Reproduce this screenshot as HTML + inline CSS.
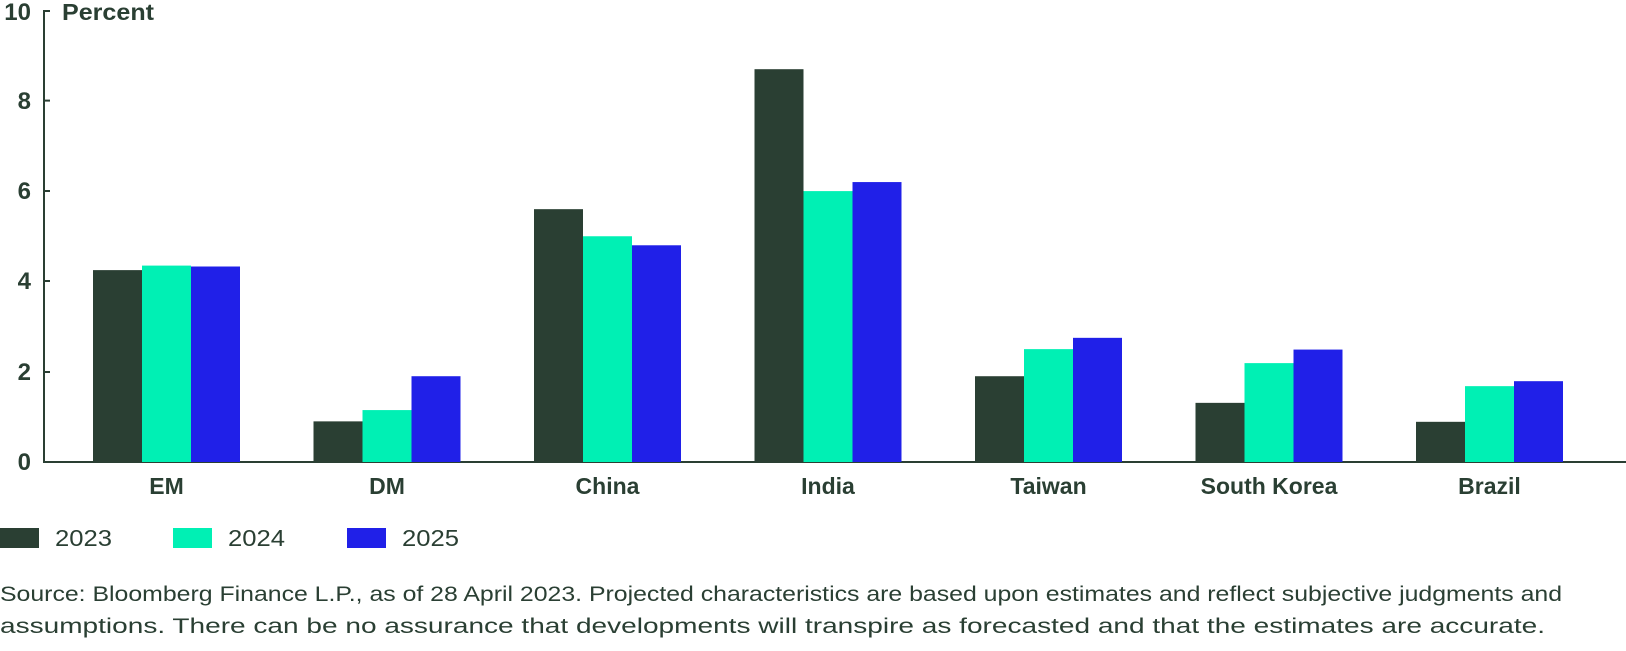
<!DOCTYPE html>
<html><head><style>
body{margin:0;background:#fff;width:1626px;height:646px;overflow:hidden;font-family:"Liberation Sans",sans-serif;}
</style></head><body>
<svg width="1626" height="646" xmlns="http://www.w3.org/2000/svg" font-family="Liberation Sans, sans-serif">
<g fill="#2a3f33" font-weight="bold" font-size="24" text-anchor="end">
<text x="31" y="20">10</text>
<text x="31" y="109">8</text>
<text x="31" y="199">6</text>
<text x="31" y="289">4</text>
<text x="31" y="380">2</text>
<text x="31" y="470">0</text>
</g>
<text x="62" y="20" fill="#2a3f33" font-weight="bold" font-size="23" textLength="92" lengthAdjust="spacingAndGlyphs">Percent</text>
<g stroke="#2a3f33" stroke-width="2">
<line x1="44" y1="10" x2="44" y2="463"/>
<line x1="43" y1="462" x2="1626" y2="462"/>
<line x1="44" y1="11" x2="50" y2="11"/>
<line x1="44" y1="100.6" x2="50" y2="100.6"/>
<line x1="44" y1="191" x2="50" y2="191"/>
<line x1="44" y1="281" x2="50" y2="281"/>
<line x1="44" y1="372" x2="50" y2="372"/>
</g>
<g id="bars"></g>
<g fill="#2a3f33" font-weight="bold" font-size="23" text-anchor="middle" id="cats"></g>
<rect x="0" y="528" width="39" height="20" fill="#2a3f33"/>
<text x="55" y="546" font-size="23" fill="#2a3f33" textLength="57" lengthAdjust="spacingAndGlyphs">2023</text>
<rect x="173" y="528" width="39" height="20" fill="#00f0b4"/>
<text x="228" y="546" font-size="23" fill="#2a3f33" textLength="57" lengthAdjust="spacingAndGlyphs">2024</text>
<rect x="347" y="528" width="39" height="20" fill="#2020e8"/>
<text x="402" y="546" font-size="23" fill="#2a3f33" textLength="57" lengthAdjust="spacingAndGlyphs">2025</text>
<text x="0" y="601" font-size="21" fill="#2a3f33" textLength="1562" lengthAdjust="spacingAndGlyphs">Source: Bloomberg Finance L.P., as of 28 April 2023. Projected characteristics are based upon estimates and reflect subjective judgments and</text>
<text x="0" y="633" font-size="21" fill="#2a3f33" textLength="1545" lengthAdjust="spacingAndGlyphs">assumptions. There can be no assurance that developments will transpire as forecasted and that the estimates are accurate.</text>
</svg>
<script>
const data=[["EM",4.25,4.35,4.33],["DM",0.9,1.15,1.9],["China",5.6,5.0,4.8],["India",8.7,6.0,6.2],["Taiwan",1.9,2.5,2.75],["South Korea",1.31,2.19,2.49],["Brazil",0.89,1.68,1.79]];
const cols=["#2a3f33","#00f0b4","#2020e8"];
const ns="http://www.w3.org/2000/svg";
const b=document.getElementById("bars"),c=document.getElementById("cats");
data.forEach((d,i)=>{const x0=93+i*220.5;
for(let k=0;k<3;k++){const r=document.createElementNS(ns,"rect");const h=d[k+1]*45.15;
r.setAttribute("x",x0+k*49);r.setAttribute("y",462-h);r.setAttribute("width",49);r.setAttribute("height",h);r.setAttribute("fill",cols[k]);b.appendChild(r);}
const t=document.createElementNS(ns,"text");t.setAttribute("x",x0+73.5);t.setAttribute("y",494);t.textContent=d[0];c.appendChild(t);});
</script>
</body></html>
